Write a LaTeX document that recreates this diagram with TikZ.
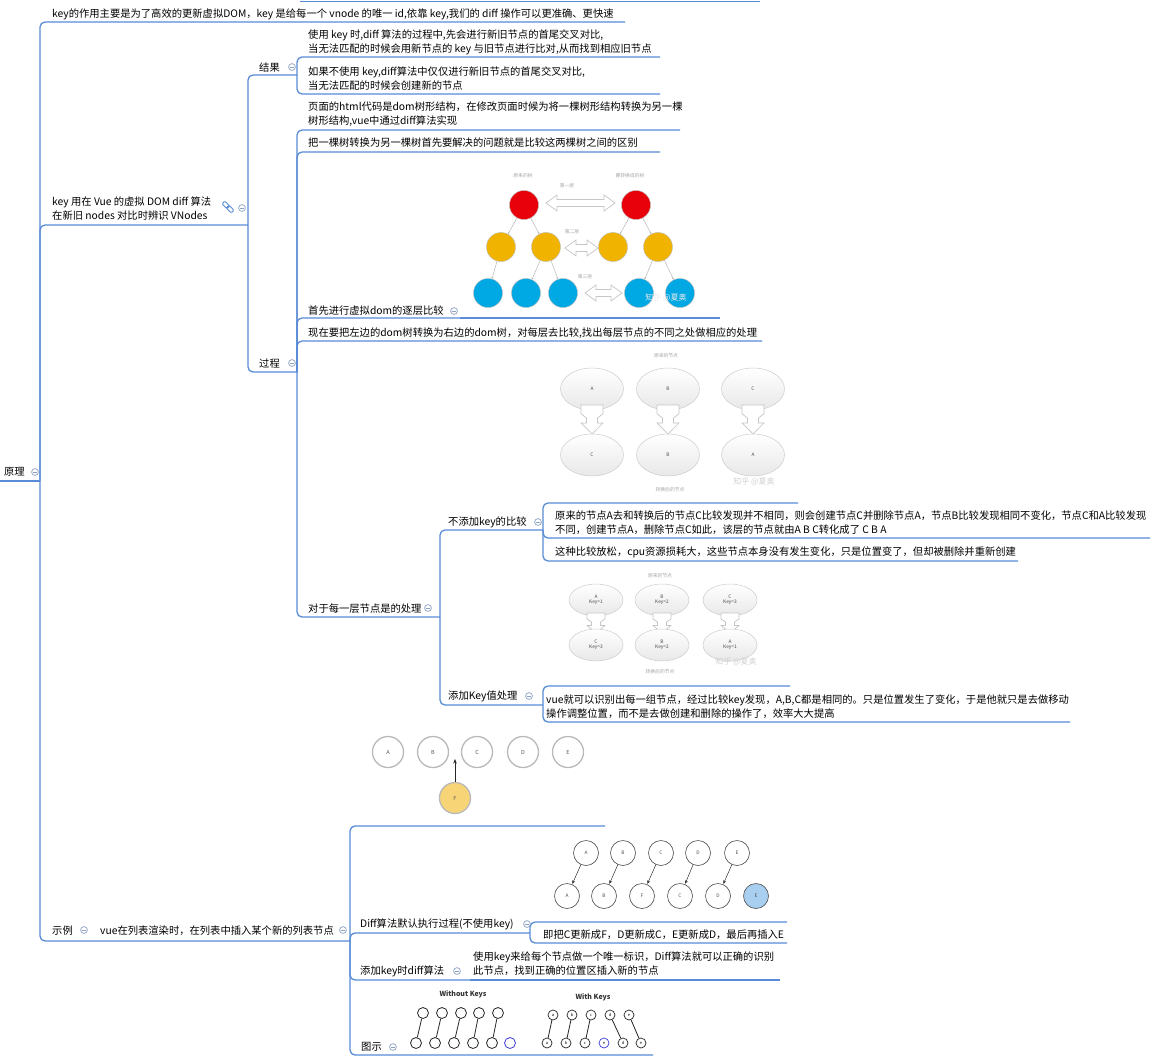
\documentclass[tikz,border=0pt]{standalone}
\usepackage{fontspec}
\setmainfont{Noto Sans CJK SC}
\usetikzlibrary{shapes.geometric,arrows.meta}
\definecolor{lnblue}{RGB}{88,140,214}
\definecolor{iconc}{RGB}{140,160,195}
\definecolor{treered}{RGB}{232,0,10}
\definecolor{treeyel}{RGB}{240,180,0}
\definecolor{treeblue}{RGB}{0,168,228}
\definecolor{fyel}{RGB}{247,213,118}
\definecolor{eblue}{RGB}{168,207,240}
\definecolor{keyblue}{RGB}{60,60,210}
\newcommand{\imgtiny}{\fontsize{4.8}{5.2}\selectfont}
\newcommand{\imgsmall}{\fontsize{5.5}{6}\selectfont}
% hollow horizontal double arrow: x1 x2 y
\newcommand{\hdblarr}[3]{%
  \draw[harrow] (#1,#3) -- ({#1+11},{#3-8}) -- ({#1+11},{#3-3.5}) -- ({#2-11},{#3-3.5}) -- ({#2-11},{#3-8}) -- (#2,#3)
   -- ({#2-11},{#3+8}) -- ({#2-11},{#3+3.5}) -- ({#1+11},{#3+3.5}) -- ({#1+11},{#3+8}) -- cycle;}
% hollow down arrow: x ytop ybottom halfwidth
\newcommand{\vdnarr}[4]{%
  \pgfmathsetmacro{\hh}{#3-#2}%
  \draw[harrow] ({#1-#4},#2) -- ({#1+#4},#2) -- ({#1+#4},{#2+0.3*\hh}) -- ({#1+0.5*#4},{#2+0.45*\hh})
   -- ({#1+0.5*#4},{#2+0.62*\hh}) -- ({#1+#4},{#2+0.62*\hh}) -- (#1,#3) -- ({#1-#4},{#2+0.62*\hh})
   -- ({#1-0.5*#4},{#2+0.62*\hh}) -- ({#1-0.5*#4},{#2+0.45*\hh}) -- ({#1-#4},{#2+0.3*\hh}) -- cycle;}
\begin{document}
\begin{tikzpicture}[x=1pt,y=-1pt,
  ln/.style={draw=lnblue,line width=1.3pt},
  conn/.style={draw=lnblue,line width=1.3pt,rounded corners=5pt},
  txt/.style={anchor=base west,inner sep=0pt,font=\fontsize{10.3}{14}\selectfont,align=left},
  colic/.pic={\draw[iconc,line width=0.7pt,fill=white] (0,0) circle[radius=3.4pt];
              \draw[iconc,line width=0.7pt] (-1.8pt,0)--(1.8pt,0);},
  harrow/.style={draw=gray!45,line width=0.7pt,fill=white},
  tc/.style={circle,minimum size=29pt,inner sep=0pt,draw=gray!55,line width=0.4pt},
  tl/.style={draw=gray!55,line width=0.5pt,-{Stealth[length=2pt,width=2pt]}},
  imglbl/.style={font=\imgtiny,text=gray!70,inner sep=0pt},
  wmark/.style={font=\fontsize{8}{9}\selectfont,text=gray!35,inner sep=0pt},
  ell/.style={ellipse,draw=gray!40,line width=0.5pt,top color=white,bottom color=gray!18,inner sep=0pt,font=\imgtiny,align=center,text=black!70},
  fc/.style={circle,draw=gray!55,line width=1.3pt,minimum size=31pt,inner sep=0pt,font=\imgsmall,text=gray!70!black,fill=white},
  dc/.style={circle,draw=black!70,line width=0.6pt,minimum size=25pt,inner sep=0pt,font=\imgtiny,text=black!70,fill=white},
  da/.style={draw=black!80,line width=0.5pt,-{Stealth[length=3.5pt,width=3pt]},shorten >=0.5pt},
  wc/.style={circle,draw=black!85,line width=0.8pt,minimum size=11pt,inner sep=0pt,fill=white},
  kc/.style={circle,draw=black!85,line width=0.7pt,minimum size=10pt,inner sep=0pt,font=\fontsize{4}{4}\selectfont,fill=white},
  wl/.style={draw=black!85,line width=0.8pt}
]
\fill[white] (0,0) rectangle (1154,1063);
\useasboundingbox (0,0) rectangle (1154,1063);

% ---------- named underline ends ----------
\coordinate (top0-s) at (300,1.5);   \coordinate (top0-e) at (760,1.5);
\coordinate (root-s) at (0,481);     \coordinate (root-e) at (40,481);
\coordinate (top1-e) at (625,22);
\coordinate (kv-e) at (248,225);
\coordinate (vl-e) at (350,941);
\coordinate (jieguo-e) at (297,75);
\coordinate (guocheng-e) at (297,372);
\coordinate (r1-e) at (660,57);
\coordinate (r2-e) at (660,94);
\coordinate (p1-e) at (680,130);
\coordinate (p2-e) at (660,152);
\coordinate (p3-e) at (460,318);
\coordinate (treeimg-e) at (720,318);
\coordinate (p4-e) at (762,341);
\coordinate (p5-e) at (440,617);
\coordinate (nokey-e) at (543,530);
\coordinate (addkey-e) at (543,705);
\coordinate (abcimg-e) at (798,503);
\coordinate (n1-e) at (1150,538);
\coordinate (n2-e) at (1018,561);
\coordinate (keyimg-e) at (790,686);
\coordinate (a1-e) at (1070,722);
\coordinate (imgF-e) at (605,826);
\coordinate (d1-e) at (530,933);
\coordinate (d2-e) at (470,980);
\coordinate (d2c-e) at (780,980);
\coordinate (d3-e) at (653,1055);
\coordinate (diffimg-e) at (787,922);
\coordinate (d1c-e) at (787,943);

% ---------- connectors / underlines ----------
\draw[ln] (top0-s) -- (top0-e);
\draw[ln] (root-s) -- (root-e);
\draw[conn] (root-e) |- (top1-e);
\draw[conn] (root-e) |- (kv-e);
\draw[conn] (root-e) |- (vl-e);
\draw[conn] (kv-e) |- (jieguo-e);
\draw[conn] (kv-e) |- (guocheng-e);
\draw[conn] (jieguo-e) |- (r1-e);
\draw[conn] (jieguo-e) |- (r2-e);
\draw[conn] (guocheng-e) |- (p1-e);
\draw[conn] (guocheng-e) |- (p2-e);
\draw[conn] (guocheng-e) |- (p3-e);
\draw[ln] (p3-e) -- (treeimg-e);
\draw[conn] (guocheng-e) |- (p4-e);
\draw[conn] (guocheng-e) |- (p5-e);
\draw[conn] (p5-e) |- (nokey-e);
\draw[conn] (p5-e) |- (addkey-e);
\draw[conn] (nokey-e) |- (abcimg-e);
\draw[conn] (nokey-e) |- (n1-e);
\draw[conn] (nokey-e) |- (n2-e);
\draw[conn] (addkey-e) |- (keyimg-e);
\draw[conn] (addkey-e) |- (a1-e);
\draw[conn] (vl-e) |- (imgF-e);
\draw[conn] (vl-e) |- (d1-e);
\draw[conn] (vl-e) |- (d2-e);
\draw[ln] (d2-e) -- (d2c-e);
\draw[conn] (vl-e) |- (d3-e);
\draw[conn] (d1-e) |- (diffimg-e);
\draw[conn] (d1-e) |- (d1c-e);

% ---------- texts (multi-line nodes: anchor = baseline of last line) ----------
\node[txt] (top1) at (52,17) {key的作用主要是为了高效的更新虚拟DOM，key 是给每一个 vnode 的唯一 id,依靠 key,我们的 diff 操作可以更准确、更快速};
\node[txt] (root) at (4,475) {原理};
\node[txt] (kv) at (52,219) {key 用在 Vue 的虚拟 DOM diff 算法\\在新旧 nodes 对比时辨识 VNodes};
\node[txt] (jieguo) at (259,71) {结果};
\node[txt] (r1) at (308,52) {使用 key 时,diff 算法的过程中,先会进行新旧节点的首尾交叉对比,\\当无法匹配的时候会用新节点的 key 与旧节点进行比对,从而找到相应旧节点};
\node[txt] (r2) at (308,89) {如果不使用 key,diff算法中仅仅进行新旧节点的首尾交叉对比,\\当无法匹配的时候会创建新的节点};
\node[txt] (guocheng) at (259,367) {过程};
\node[txt] (p1) at (308,124) {页面的html代码是dom树形结构，在修改页面时候为将一棵树形结构转换为另一棵\\树形结构,vue中通过diff算法实现};
\node[txt] (p2) at (308,146) {把一棵树转换为另一棵树首先要解决的问题就是比较这两棵树之间的区别};
\node[txt] (p3) at (308,314) {首先进行虚拟dom的逐层比较};
\node[txt] (p4) at (308,336) {现在要把左边的dom树转换为右边的dom树，对每层去比较,找出每层节点的不同之处做相应的处理};
\node[txt] (p5) at (308,612) {对于每一层节点是的处理};
\node[txt] (nokey) at (448,525) {不添加key的比较};
\node[txt] (n1) at (555,533) {原来的节点A去和转换后的节点C比较发现并不相同，则会创建节点C并删除节点A，节点B比较发现相同不变化，节点C和A比较发现\\不同，创建节点A，删除节点C如此，该层的节点就由A B C转化成了 C B A};
\node[txt] (n2) at (555,555) {这种比较放松，cpu资源损耗大，这些节点本身没有发生变化，只是位置变了，但却被删除并重新创建};
\node[txt] (addkey) at (448,699) {添加Key值处理};
\node[txt] (a1) at (546,717) {vue就可以识别出每一组节点，经过比较key发现，A,B,C都是相同的。只是位置发生了变化，于是他就只是去做移动\\操作调整位置，而不是去做创建和删除的操作了，效率大大提高};
\node[txt] (shili) at (52,934) {示例};
\node[txt] (vl) at (100,934) {vue在列表渲染时，在列表中插入某个新的列表节点};
\node[txt] (d1) at (360,927) {Diff算法默认执行过程(不使用key)};
\node[txt] (d1c) at (543,938) {即把C更新成F，D更新成C，E更新成D，最后再插入E};
\node[txt] (d2) at (360,974) {添加key时diff算法};
\node[txt] (d2c) at (473,974) {使用key来给每个节点做一个唯一标识，Diff算法就可以正确的识别\\此节点，找到正确的位置区插入新的节点};
\node[txt] (d3) at (361,1050) {图示};

% ---------- collapse icons ----------
\pic at (35,472) {colic};
\pic at (242,208) {colic};
\pic at (292,67) {colic};
\pic at (292,363) {colic};
\pic at (454,311) {colic};
\pic at (428,608) {colic};
\pic at (538,522) {colic};
\pic at (529,696) {colic};
\pic at (84,930) {colic};
\pic at (343,930) {colic};
\pic at (527,924) {colic};
\pic at (457,971) {colic};
\pic at (393,1047) {colic};
% link icon
\draw[lnblue,line width=0.9pt,rounded corners=1.2pt,rotate around={-45:(228,207)}]
  (221.5,205) rectangle (228.5,209) (227.5,205) rectangle (234.5,209);

% ---------- tree image ----------
\node[imglbl] (tl1) at (523,176) {原来的树};
\node[imglbl] (tl2) at (630,176) {要转换成的树};
\node[imglbl] (tl3) at (567,186) {第一层};
\node[imglbl] (tl4) at (572,232) {第二层};
\node[imglbl] (tl5) at (585,277) {第三层};
\node[tc,fill=treered] (tr1) at (524,205) {};
\node[tc,fill=treered] (tr2) at (636,205) {};
\node[tc,fill=treeyel] (ty1) at (501,247) {};
\node[tc,fill=treeyel] (ty2) at (546,247) {};
\node[tc,fill=treeyel] (ty3) at (613,247) {};
\node[tc,fill=treeyel] (ty4) at (658,247) {};
\node[tc,fill=treeblue] (tb1) at (488,293) {};
\node[tc,fill=treeblue] (tb2) at (526,293) {};
\node[tc,fill=treeblue] (tb3) at (563,293) {};
\node[tc,fill=treeblue] (tb4) at (639,293) {};
\node[tc,fill=treeblue] (tb5) at (680,293) {};
\draw[tl] (tr1) -- (ty1);
\draw[tl] (tr1) -- (ty2);
\draw[tl] (ty1) -- (tb1);
\draw[tl] (ty2) -- (tb2);
\draw[tl] (ty2) -- (tb3);
\draw[tl] (tr2) -- (ty3);
\draw[tl] (tr2) -- (ty4);
\draw[tl] (ty4) -- (tb4);
\draw[tl] (ty4) -- (tb5);
\hdblarr{546}{615}{203}
\hdblarr{565}{598}{248}
\hdblarr{585}{622}{293}
\node[wmark,text=white!85!gray] (wm1) at (666,298) {知乎 @夏奥};

% ---------- ABC image ----------
\node[imglbl] (al1) at (666,356) {原来的节点};
\node[ell,minimum width=63pt,minimum height=42pt] (ea1) at (592,389) {A};
\node[ell,minimum width=63pt,minimum height=42pt] (ea2) at (668,389) {B};
\node[ell,minimum width=63pt,minimum height=42pt] (ea3) at (753,389) {C};
\vdnarr{592}{405}{434}{11}
\vdnarr{668}{405}{434}{11}
\vdnarr{753}{405}{434}{11}
\node[ell,minimum width=63pt,minimum height=42pt] (eb1) at (592,455) {C};
\node[ell,minimum width=63pt,minimum height=42pt] (eb2) at (668,455) {B};
\node[ell,minimum width=63pt,minimum height=42pt] (eb3) at (753,455) {A};
\node[imglbl] (al2) at (670,490) {转换后的节点};
\node[wmark] (wm2) at (754,482) {知乎 @夏奥};

% ---------- key image ----------
\node[imglbl] (kl1) at (660,576) {原来的节点};
\node[ell,minimum width=54pt,minimum height=32pt] (ka1) at (596,600) {A\\Key=1};
\node[ell,minimum width=54pt,minimum height=32pt] (ka2) at (662,600) {B\\Key=2};
\node[ell,minimum width=54pt,minimum height=32pt] (ka3) at (730,600) {C\\Key=3};
\vdnarr{596}{613}{633}{9}
\vdnarr{662}{613}{633}{9}
\vdnarr{730}{613}{633}{9}
\node[ell,minimum width=54pt,minimum height=32pt] (kb1) at (596,645) {C\\Key=3};
\node[ell,minimum width=54pt,minimum height=32pt] (kb2) at (662,645) {B\\Key=2};
\node[ell,minimum width=54pt,minimum height=32pt] (kb3) at (730,645) {A\\Key=1};
\node[imglbl] (kl2) at (660,672) {转换后的节点};
\node[wmark] (wm3) at (736,662) {知乎 @夏奥};

% ---------- ABCDE + F image ----------
\node[fc] (fA) at (388,752) {A};
\node[fc] (fB) at (433,752) {B};
\node[fc] (fC) at (477,752) {C};
\node[fc] (fD) at (523,752) {D};
\node[fc] (fE) at (568,752) {E};
\node[fc,fill=fyel] (fF) at (455,798) {F};
\coordinate (farrow) at (455,759);
\draw[draw=black!85,line width=0.7pt,-{Stealth[length=4.5pt,width=3.5pt]}] (fF) -- (farrow);

% ---------- diff image ----------
\node[dc] (dt1) at (586,853) {A};
\node[dc] (dt2) at (623,853) {B};
\node[dc] (dt3) at (661,853) {C};
\node[dc] (dt4) at (698,853) {D};
\node[dc] (dt5) at (737,853) {E};
\node[dc] (db1) at (567,896) {A};
\node[dc] (db2) at (604,896) {B};
\node[dc] (db3) at (642,896) {F};
\node[dc] (db4) at (680,896) {C};
\node[dc] (db5) at (718,896) {D};
\node[dc,fill=eblue] (db6) at (756,896) {E};
\draw[da] (dt1) -- (db1);
\draw[da] (dt2) -- (db2);
\draw[da] (dt3) -- (db3);
\draw[da] (dt4) -- (db4);
\draw[da] (dt5) -- (db5);

% ---------- with / without keys image ----------
\node[font=\fontsize{7}{8}\selectfont\bfseries,text=black!80,inner sep=0pt] (wk1) at (463,994) {Without Keys};
\node[wc] (wt1) at (423,1013) {};
\node[wc] (wt2) at (442,1013) {};
\node[wc] (wt3) at (461,1013) {};
\node[wc] (wt4) at (479,1013) {};
\node[wc] (wt5) at (498,1013) {};
\node[wc] (wb1) at (416,1043) {};
\node[wc] (wb2) at (435,1043) {};
\node[wc] (wb3) at (454,1043) {};
\node[wc] (wb4) at (473,1043) {};
\node[wc] (wb5) at (492,1043) {};
\node[wc,draw=keyblue] (wb6) at (510,1043) {};
\draw[wl] (wt1) -- (wb1);
\draw[wl] (wt2) -- (wb2);
\draw[wl] (wt3) -- (wb3);
\draw[wl] (wt4) -- (wb4);
\draw[wl] (wt5) -- (wb5);
\node[font=\fontsize{7}{8}\selectfont\bfseries,text=black!80,inner sep=0pt] (wk2) at (593,997) {With Keys};
\node[kc] (kta) at (553,1015) {a};
\node[kc] (ktb) at (572,1015) {b};
\node[kc] (ktc) at (591,1015) {c};
\node[kc] (ktd) at (610,1015) {d};
\node[kc] (kte) at (629,1015) {e};
\node[kc] (kba) at (547,1043) {a};
\node[kc] (kbb) at (566,1043) {b};
\node[kc] (kbc) at (585,1043) {c};
\node[kc,draw=keyblue] (kbx) at (604,1043) {e};
\node[kc] (kbd) at (623,1043) {d};
\node[kc] (kbe) at (641,1043) {e};
\draw[wl] (kta) -- (kba);
\draw[wl] (ktb) -- (kbb);
\draw[wl] (ktc) -- (kbc);
\draw[wl] (ktd) -- (kbd);
\draw[wl] (kte) -- (kbe);
\end{tikzpicture}
\end{document}
